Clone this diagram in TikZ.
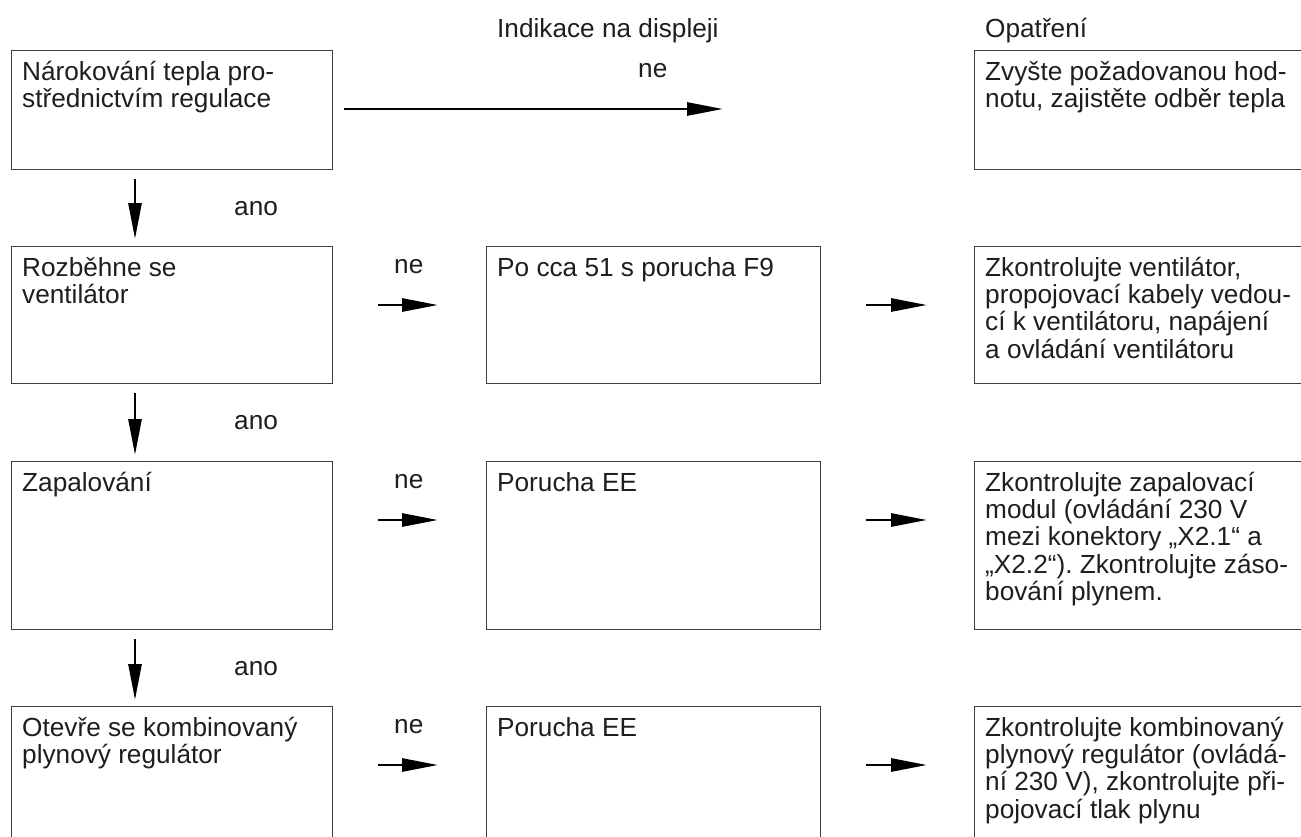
\documentclass[tikz,border=0pt]{standalone}
\usepackage{fontspec}
\setmainfont{Liberation Sans}
\usetikzlibrary{arrows.meta}
\definecolor{boxline}{HTML}{404040}
\definecolor{ink}{HTML}{1E1E1E}
\newcommand{\fs}{\rule{0pt}{22pt}}
\frenchspacing
\begin{document}
\frenchspacing
\begin{tikzpicture}[x=1pt,y=-1pt,
  fbox/.style={draw=boxline, line width=1.3pt, rectangle, inner sep=0pt, anchor=north west},
  tx/.style={anchor=north west, inner sep=0pt, align=left, text=ink, font=\fontsize{26.2}{27.3}\selectfont},
  lbl/.style={anchor=base west, inner sep=0pt, text=ink, font=\fontsize{26.2}{27.3}\selectfont},
  arr/.style={line width=2.8pt, -{Triangle[length=36pt,width=13pt]}}
]
\useasboundingbox (0,0) rectangle (1301,836);
\clip (0,0) rectangle (1301,836);

% headers
\node[lbl] (h1) at (497,37) {Indikace na displeji};
\node[lbl] (h2) at (985,37) {Opatření};

% left column
\node[fbox, minimum width=321pt, minimum height=119pt] (L1) at (11,50) {};
\node[fbox, minimum width=321pt, minimum height=137pt] (L2) at (11,246) {};
\node[fbox, minimum width=321pt, minimum height=168pt] (L3) at (11,461) {};
\node[fbox, minimum width=321pt, minimum height=160pt] (L4) at (11,706) {};

% middle column
\node[fbox, minimum width=334pt, minimum height=137pt] (M2) at (486,246) {};
\node[fbox, minimum width=334pt, minimum height=168pt] (M3) at (486,461) {};
\node[fbox, minimum width=334pt, minimum height=160pt] (M4) at (486,706) {};

% right column
\node[fbox, minimum width=360pt, minimum height=119pt] (R1) at (974,50) {};
\node[fbox, minimum width=360pt, minimum height=137pt] (R2) at (974,246) {};
\node[fbox, minimum width=360pt, minimum height=168pt] (R3) at (974,461) {};
\node[fbox, minimum width=360pt, minimum height=160pt] (R4) at (974,706) {};

% texts
\node[tx] (tL1) at ([xshift=11pt,yshift=-8pt]L1.north west) {\fs Nárokování tepla pro-\\střednictvím regulace};
\node[tx] (tL2) at ([xshift=11pt,yshift=-8pt]L2.north west) {\fs Rozběhne se\\ventilátor};
\node[tx] (tL3) at ([xshift=11pt,yshift=-8pt]L3.north west) {\fs Zapalování};
\node[tx] (tL4) at ([xshift=11pt,yshift=-8pt]L4.north west) {\fs Otevře se kombinovaný\\plynový regulátor};

\node[tx] (tM2) at ([xshift=11pt,yshift=-8pt]M2.north west) {\fs Po cca 51 s porucha F9};
\node[tx] (tM3) at ([xshift=11pt,yshift=-8pt]M3.north west) {\fs Porucha EE};
\node[tx] (tM4) at ([xshift=11pt,yshift=-8pt]M4.north west) {\fs Porucha EE};

\node[tx] (tR1) at ([xshift=11pt,yshift=-8pt]R1.north west) {\fs Zvyšte požadovanou hod-\\notu, zajistěte odběr tepla};
\node[tx] (tR2) at ([xshift=11pt,yshift=-8pt]R2.north west) {\fs Zkontrolujte ventilátor,\\propojovací kabely vedou-\\cí k ventilátoru, napájení\\a ovládání ventilátoru};
\node[tx] (tR3) at ([xshift=11pt,yshift=-8pt]R3.north west) {\fs Zkontrolujte zapalovací\\modul (ovládání 230 V\\mezi konektory „X2.1“ a\\„X2.2“).\ Zkontrolujte záso-\\bování plynem.};
\node[tx] (tR4) at ([xshift=11pt,yshift=-8pt]R4.north west) {\fs Zkontrolujte kombinovaný\\plynový regulátor (ovládá-\\ní 230 V), zkontrolujte při-\\pojovací tlak plynu};

% labels
\node[lbl] (ne1) at (638,77) {ne};
\node[lbl] (ne2) at (394,273) {ne};
\node[lbl] (ne3) at (394,488) {ne};
\node[lbl] (ne4) at (394,733) {ne};
\node[lbl] (ano1) at (234,215) {ano};
\node[lbl] (ano2) at (234,429) {ano};
\node[lbl] (ano3) at (234,675) {ano};

% arrow end coordinates
\coordinate (a1s) at (344,109); \coordinate (a1e) at (723,109);
\coordinate (a2s) at (378,305); \coordinate (a2e) at (438,305);
\coordinate (b2s) at (866,305); \coordinate (b2e) at (927,305);
\coordinate (a3s) at (378,520); \coordinate (a3e) at (438,520);
\coordinate (b3s) at (866,520); \coordinate (b3e) at (927,520);
\coordinate (a4s) at (378,765); \coordinate (a4e) at (438,765);
\coordinate (b4s) at (866,765); \coordinate (b4e) at (927,765);
\coordinate (d1s) at (135,179); \coordinate (d1e) at (135,239);
\coordinate (d2s) at (135,393); \coordinate (d2e) at (135,455);
\coordinate (d3s) at (135,639); \coordinate (d3e) at (135,700);

\draw[arr] (a1s) -- (a1e);
\draw[arr] (a2s) -- (a2e);
\draw[arr] (b2s) -- (b2e);
\draw[arr] (a3s) -- (a3e);
\draw[arr] (b3s) -- (b3e);
\draw[arr] (a4s) -- (a4e);
\draw[arr] (b4s) -- (b4e);
\draw[arr] (d1s) -- (d1e);
\draw[arr] (d2s) -- (d2e);
\draw[arr] (d3s) -- (d3e);
\end{tikzpicture}
\end{document}
